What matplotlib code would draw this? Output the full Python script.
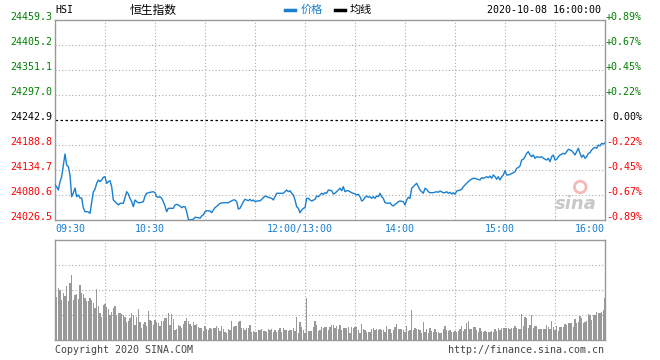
"""Intraday chart of the Hang Seng Index (HSI) for 2020-10-08, Sina finance style."""

import matplotlib

matplotlib.use('Agg')
import matplotlib.pyplot as plt
import matplotlib.transforms as mtransforms
import numpy as np

PREV_CLOSE = 24242.9
PRICE_LOW = 24026.5
PRICE_HIGH = 24459.3

# trading minutes since 09:30 (lunch break removed, 150 = 12:00/13:00)
PRICE_MINUTES = [
    0, 1, 2, 3, 4, 5, 6, 7, 8, 9, 10, 11, 12, 13, 14, 15, 16, 17, 18, 19,
    20, 21, 22, 23, 24, 25, 26, 27, 28, 29, 30, 31, 32, 33, 34, 35, 36, 37, 38, 39,
    41, 42, 43, 44, 45, 46, 47, 48, 49, 50, 51, 53, 54, 55, 57, 59, 60, 61, 62, 63,
    64, 65, 66, 67, 68, 69, 71, 72, 73, 75, 76, 77, 78, 79, 80, 81, 83, 84, 86, 87,
    88, 89, 90, 91, 93, 94, 95, 96, 98, 99, 101, 102, 104, 105, 107, 108, 109, 110, 111, 112,
    113, 114, 116, 117, 118, 119, 120, 122, 123, 124, 126, 127, 128, 130, 131, 132, 133, 135, 137, 138,
    139, 140, 141, 142, 143, 144, 145, 146, 147, 148, 149, 150, 151, 152, 153, 154, 156, 157, 158, 159,
    160, 161, 162, 163, 164, 166, 167, 168, 169, 170, 171, 172, 173, 174, 175, 176, 178, 180, 181, 182,
    183, 184, 185, 186, 187, 188, 189, 190, 191, 192, 193, 194, 195, 196, 197, 198, 200, 201, 202, 203,
    204, 205, 206, 207, 209, 210, 211, 212, 213, 214, 215, 216, 217, 218, 219, 220, 221, 222, 223, 224,
    225, 227, 229, 230, 231, 233, 234, 235, 236, 237, 238, 239, 240, 241, 243, 244, 245, 247, 248, 249,
    251, 252, 253, 255, 256, 257, 259, 260, 261, 262, 263, 264, 265, 266, 267, 268, 269, 270, 271, 272,
    273, 275, 276, 277, 278, 279, 280, 281, 282, 283, 284, 285, 286, 287, 288, 289, 291, 292, 293, 295,
    296, 297, 298, 299, 300, 301, 302, 303, 305, 306, 307, 308, 309, 310, 311, 312, 313, 314, 315, 316,
    317, 318, 319, 320, 321, 322, 323, 324, 325, 326, 327, 328, 329, 330,
]
PRICES = [
    24102.2, 24098.6, 24091.4, 24109.4, 24120.2, 24145.0, 24169.3, 24145.5, 24141.8, 24123.9,
    24076.9, 24084.9, 24095.7, 24076.9, 24080.6, 24074.1, 24074.1, 24052.5, 24044.5, 24044.5,
    24044.0, 24041.0, 24065.0, 24087.7, 24092.9, 24105.9, 24113.1, 24109.4, 24113.1, 24118.9,
    24120.2, 24105.9, 24109.4, 24111.5, 24098.6, 24069.8, 24066.1, 24062.6, 24059.0, 24062.6,
    24062.6, 24075.0, 24087.7, 24082.8, 24073.4, 24066.1, 24055.3, 24069.8, 24066.1, 24063.9,
    24063.9, 24066.1, 24078.4, 24084.3, 24086.4, 24087.7, 24085.6, 24076.9, 24075.6, 24076.9,
    24073.4, 24066.1, 24056.8, 24044.5, 24051.8, 24051.8, 24051.8, 24059.0, 24060.5, 24056.8,
    24053.1, 24055.3, 24055.3, 24044.5, 24028.0, 24026.5, 24028.0, 24032.4, 24031.5, 24030.2,
    24035.2, 24037.4, 24044.5, 24046.6, 24046.0, 24042.3, 24048.1, 24053.1, 24059.0, 24062.6,
    24063.9, 24063.9, 24063.9, 24066.1, 24069.8, 24069.8, 24066.1, 24050.3, 24051.8, 24059.0,
    24066.1, 24071.3, 24068.3, 24071.3, 24067.6, 24069.8, 24066.1, 24068.3, 24067.6, 24071.3,
    24078.4, 24076.9, 24075.6, 24073.4, 24069.8, 24076.9, 24084.3, 24084.3, 24084.3, 24087.7,
    24091.4, 24087.7, 24089.9, 24084.3, 24080.6, 24069.8, 24055.3, 24051.8, 24042.3, 24048.1,
    24051.8, 24053.1, 24073.4, 24073.4, 24069.8, 24067.6, 24071.3, 24078.4, 24076.9, 24080.6,
    24084.3, 24082.1, 24085.6, 24084.3, 24091.4, 24089.9, 24082.8, 24084.3, 24087.7, 24091.4,
    24095.1, 24089.9, 24098.6, 24087.7, 24089.9, 24089.9, 24085.6, 24082.8, 24080.6, 24082.1,
    24076.9, 24067.6, 24069.8, 24075.6, 24078.4, 24075.6, 24076.9, 24073.4, 24076.9, 24073.4,
    24078.4, 24076.9, 24084.3, 24076.9, 24073.4, 24063.9, 24062.6, 24063.9, 24059.0, 24056.8,
    24060.5, 24062.6, 24066.1, 24067.6, 24066.1, 24059.0, 24069.8, 24075.6, 24073.4, 24095.1,
    24098.6, 24102.2, 24105.9, 24098.6, 24091.4, 24087.7, 24084.3, 24095.1, 24093.0, 24087.7,
    24085.6, 24085.6, 24087.7, 24086.4, 24089.2, 24085.6, 24085.6, 24087.7, 24084.3, 24086.4,
    24082.8, 24085.6, 24082.1, 24089.2, 24091.4, 24092.9, 24098.6, 24105.9, 24109.4, 24113.1,
    24116.7, 24116.7, 24115.2, 24113.1, 24118.0, 24116.7, 24120.2, 24118.0, 24121.7, 24116.7,
    24123.9, 24120.2, 24114.6, 24120.2, 24113.1, 24120.2, 24123.9, 24133.2, 24123.9, 24123.9,
    24125.4, 24128.9, 24131.0, 24138.4, 24140.0, 24143.4, 24156.3, 24157.9, 24163.5, 24170.8,
    24174.3, 24167.2, 24163.5, 24167.2, 24160.0, 24163.5, 24162.2, 24163.5, 24160.0, 24156.3,
    24160.0, 24152.7, 24163.5, 24167.2, 24156.3, 24157.9, 24163.5, 24167.2, 24170.8, 24169.3,
    24174.3, 24179.5, 24178.0, 24176.5, 24172.1, 24167.2, 24174.3, 24181.7, 24170.8, 24162.2,
    24167.2, 24160.0, 24163.5, 24170.8, 24172.1, 24178.0, 24181.7, 24183.8, 24181.7, 24188.8,
    24186.6, 24192.4, 24190.9, 24193.0,
]

# per-minute volume, minute 1..330 (relative units, panel top = 100)
VOLUME = [
    43, 52, 50, 40, 47, 44, 54, 39, 57, 65, 40, 45, 46, 41, 55, 47, 46, 42, 39, 39,
    42, 40, 37, 32, 51, 34, 27, 23, 35, 36, 33, 31, 25, 28, 32, 34, 25, 27, 27, 26,
    25, 23, 18, 19, 22, 27, 25, 15, 23, 31, 18, 12, 16, 18, 14, 29, 20, 19, 15, 20,
    18, 17, 14, 19, 19, 22, 22, 27, 15, 26, 21, 10, 11, 15, 14, 12, 16, 19, 22, 19,
    16, 14, 18, 15, 16, 13, 12, 12, 9, 14, 11, 10, 12, 11, 12, 12, 14, 12, 9, 14,
    11, 8, 7, 11, 10, 19, 13, 14, 14, 18,
    19, 12, 12, 10, 12, 12, 15, 8, 9, 8, 8, 10, 10, 11, 9, 9, 8, 11, 10, 11,
    8, 10, 8, 10, 12, 8, 12, 10, 10, 9, 10, 10, 12, 9, 23, 7, 18, 13, 10, 7,
    42, 9, 9, 9, 13, 19, 15, 9, 10, 13, 12, 13, 13, 10, 13, 15, 15, 12, 14, 11,
    15, 10, 12, 12, 12, 13, 7, 13, 12, 13, 13, 10, 7, 16, 11, 10, 8, 8, 8, 11,
    12, 10, 11, 10, 11, 10, 10, 8, 14, 11, 11, 7, 10, 13, 16, 11, 11, 11, 10, 8,
    14, 9, 10, 30, 10, 12, 11, 11, 10,
    7, 18, 8, 11, 7, 12, 9, 8, 11, 8, 8, 7, 7, 11, 14, 10, 9, 10, 8, 8,
    9, 8, 9, 11, 14, 9, 11, 17, 19, 11, 11, 13, 13, 10, 8, 12, 9, 8, 9, 8,
    8, 8, 9, 8, 11, 9, 12, 10, 12, 12, 12, 12, 12, 11, 12, 12, 14, 12, 11, 11,
    26, 14, 23, 22, 12, 15, 25, 12, 14, 14, 11, 11, 11, 11, 11, 15, 13, 11, 19, 13,
    10, 14, 9, 13, 13, 13, 16, 15, 17, 17, 17, 13, 21, 17, 18, 24, 22, 17, 18, 19,
    26, 25, 20, 25, 25, 28, 27, 27, 28, 30, 42,
]

TIME_TICKS = [0, 60, 150, 210, 270, 330]
TIME_LABELS = ['09:30', '10:30', '12:00/13:00', '14:00', '15:00', '16:00']

BLUE = '#1a7fd0'
GREEN = '#008000'
RED = '#ff0000'
BORDER = '#999999'
GRID = '#aaaaaa'
MONO = 'DejaVu Sans Mono'
CJK = ['Noto Sans CJK SC', 'DejaVu Sans']
FS = 7.2


def style_frame(ax):
    for spine in ax.spines.values():
        spine.set_color(BORDER)
        spine.set_linewidth(1.0)
    ax.set_xticks([])
    ax.set_yticks([])
    ax.set_xlim(0, 330)
    for m in range(30, 330, 30):
        ax.axvline(m, color=GRID, linewidth=0.8, linestyle=(0, (1, 2)), zorder=0)


def main():
    fig = plt.figure(figsize=(6.6, 3.6), dpi=100)
    W, H = 660, 360

    ax = fig.add_axes([55 / W, 1 - 220 / H, 550 / W, 200 / H])
    style_frame(ax)
    ax.set_ylim(PRICE_LOW, PRICE_HIGH)

    levels = np.linspace(PRICE_LOW, PRICE_HIGH, 9)
    for lv in levels[1:-1]:
        if abs(lv - PREV_CLOSE) < 0.05:
            ax.axhline(lv, color='black', linewidth=0.9, linestyle=(0, (2, 2)), zorder=1)
        else:
            ax.axhline(lv, color=GRID, linewidth=0.8, linestyle=(0, (1, 2)), zorder=0)

    ax.plot(PRICE_MINUTES, PRICES, color=BLUE, linewidth=1.0, zorder=3)

    ytrans = ax.get_yaxis_transform()
    for lv in levels:
        pct = (lv - PREV_CLOSE) / PREV_CLOSE * 100
        if abs(pct) < 0.005:
            color, pct_txt = 'black', '0.00%'
        elif pct > 0:
            color, pct_txt = GREEN, f'+{pct:.2f}%'
        else:
            color, pct_txt = RED, f'{pct:.2f}%'
        ax.text(-3 / 550, lv, f'{lv:.1f}', transform=ytrans, ha='right', va='baseline',
                color=color, fontsize=FS, family=MONO)
        ax.text(1 + 37 / 550, lv, pct_txt, transform=ytrans, ha='right', va='baseline',
                color=color, fontsize=FS, family=MONO)

    xtrans = ax.get_xaxis_transform()
    shift = mtransforms.offset_copy(xtrans, fig=fig, x=-5, y=0, units='dots')
    for m, lab in zip(TIME_TICKS, TIME_LABELS):
        if m == 0:
            ax.text(m, -0.02, lab, transform=xtrans, ha='left', va='top',
                    color=BLUE, fontsize=FS, family=MONO)
        elif m == 330:
            ax.text(m, -0.02, lab, transform=xtrans, ha='right', va='top',
                    color=BLUE, fontsize=FS, family=MONO)
        else:
            ax.text(m, -0.02, lab, transform=shift, ha='center', va='top',
                    color=BLUE, fontsize=FS, family=MONO)

    # sina watermark
    ax.text(0.985, 0.035, 'sina', transform=ax.transAxes, ha='right', va='bottom',
            fontsize=13, fontweight='bold', style='italic', color='#c8c8c8', zorder=2)
    ax.scatter([0.955], [0.165], s=70, transform=ax.transAxes, facecolor='none',
               edgecolor='#f5b8b8', linewidth=2, zorder=2)

    # volume panel
    vax = fig.add_axes([55 / W, 1 - 340 / H, 550 / W, 100 / H])
    style_frame(vax)
    vax.set_ylim(0, 100)
    for v in (25, 50, 75):
        vax.axhline(v, color=GRID, linewidth=0.8, linestyle=(0, (1, 2)), zorder=0)
    vol_minutes = np.arange(1, len(VOLUME) + 1)
    vax.bar(vol_minutes, VOLUME, width=0.7, color='#999999', linewidth=0,
            antialiased=False, zorder=2)

    # header
    ty = 1 - 10 / H
    fig.text(55 / W, ty, 'HSI', ha='left', va='center', fontsize=FS, family=MONO)
    fig.text(130 / W, ty, '恒生指数', ha='left', va='center', fontsize=8.5, family=CJK)
    fig.lines.append(plt.Line2D([285 / W, 295 / W], [ty, ty], transform=fig.transFigure,
                                color=BLUE, linewidth=2.5))
    fig.text(301 / W, ty, '价格', ha='left', va='center', fontsize=8, family=CJK, color=BLUE)
    fig.lines.append(plt.Line2D([335 / W, 345 / W], [ty, ty], transform=fig.transFigure,
                                color='black', linewidth=2.5))
    fig.text(350 / W, ty, '均线', ha='left', va='center', fontsize=8, family=CJK)
    fig.text(601 / W, ty, '2020-10-08 16:00:00', ha='right', va='center',
             fontsize=FS, family=MONO)

    # footer
    fy = 1 - 350 / H
    fig.text(55 / W, fy, 'Copyright 2020 SINA.COM', ha='left', va='center',
             fontsize=FS, family=MONO, color='#444444')
    fig.text(604 / W, fy, 'http://finance.sina.com.cn', ha='right', va='center',
             fontsize=FS, family=MONO, color='#444444')

    fig.savefig('out.png', dpi=100)
    plt.close(fig)


if __name__ == '__main__':
    main()
